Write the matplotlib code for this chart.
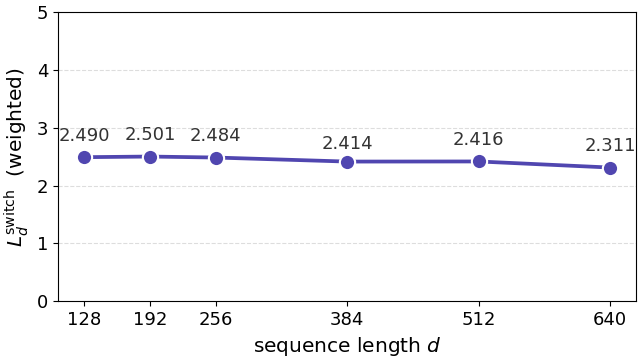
import matplotlib
matplotlib.use("Agg")
import matplotlib.pyplot as plt

seq_len = [128, 192, 256, 384, 512, 640]
loss = [2.490, 2.501, 2.484, 2.414, 2.416, 2.311]
labels = ["2.490", "2.501", "2.484", "2.414", "2.416", "2.311"]
label_dy = [0.36, 0.37, 0.37, 0.31, 0.37, 0.37]

plt.rcParams['font.family'] = ['DejaVu Sans']
fig, ax = plt.subplots(figsize=(6.44, 3.6), dpi=100)
fig.subplots_adjust(left=0.09, right=0.988, top=0.967, bottom=0.163)

color = "#5046b0"
ax.plot(seq_len, loss, color=color, lw=2.7, marker='o', markersize=11,
        markerfacecolor=color, markeredgecolor='white', markeredgewidth=1.5, zorder=3)
for x, y, t, dy in zip(seq_len, loss, labels, label_dy):
    ax.text(x, y + dy, t, ha='center', va='center', fontsize=13, color='#333333')

ax.set_ylim(0, 5)
ax.set_xticks(seq_len)
ax.set_xticklabels([str(s) for s in seq_len])
ax.set_yticks(range(6))
ax.tick_params(labelsize=13)
ax.grid(axis='y', linestyle='--', color='#dddddd', lw=0.8)
ax.set_axisbelow(True)
ax.set_xlabel(r"sequence length $d$", fontsize=14.5)
ax.set_ylabel(r"$L_d^{\mathrm{switch}}$  (weighted)", fontsize=14.5)
fig.savefig("out.png", dpi=100)
